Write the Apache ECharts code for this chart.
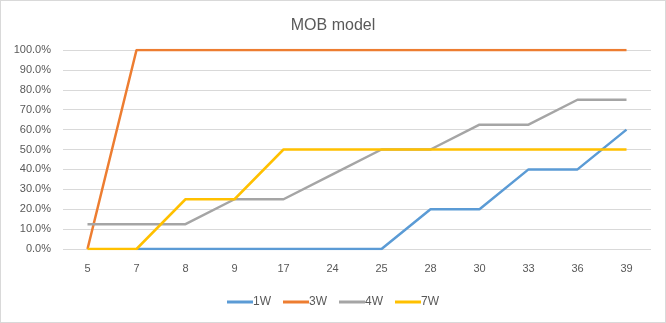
<!DOCTYPE html>
<html><head><meta charset="utf-8">
<script src="https://cdn.jsdelivr.net/npm/echarts@6/dist/echarts.min.js"></script>
<style>
html,body{margin:0;padding:0;background:#fff;}
#c{width:664px;height:321px;border:1px solid #d9d9d9;}
</style></head>
<body><div id="c"></div>
<script>
const categories = ['5','7','8','9','17','24','25','28','30','33','36','39'];
const s1W = [null,0,0,0,0,0,0,0.2,0.2,0.4,0.4,0.6];
const s3W = [0,1,1,1,1,1,1,1,1,1,1,1];
const s4W = [0.125,0.125,0.125,0.25,0.25,0.375,0.5,0.5,0.625,0.625,0.75,0.75];
const s7W = [0,0,0.25,0.25,0.5,0.5,0.5,0.5,0.5,0.5,0.5,0.5];
const seriesNames = ['1W','3W','4W','7W'];
const colors = ['#5b9bd5','#ed7d31','#a5a5a5','#ffc000'];
const data = [s1W,s3W,s4W,s7W];
const font = 'Liberation Sans, Arial, sans-serif';
const chart = echarts.init(document.getElementById('c'));
chart.setOption({
  animation:false,
  title:{text:'MOB model',left:'center',top:12,textStyle:{fontFamily:font,fontSize:16,fontWeight:'normal',color:'#595959'}},
  grid:{left:62,right:14,top:49,bottom:73},
  legend:{bottom:9,left:'center',itemWidth:26,itemHeight:3,itemGap:12,icon:'rect',
    textStyle:{fontFamily:font,fontSize:12,color:'#595959',padding:[0,0,0,-5]},data:seriesNames},
  xAxis:{type:'category',data:categories,boundaryGap:true,
    axisLine:{show:false},axisTick:{show:false},
    axisLabel:{fontFamily:font,fontSize:11,color:'#595959',margin:14}},
  yAxis:{type:'value',min:0,max:1,interval:0.1,
    axisLine:{show:false},axisTick:{show:false},
    splitLine:{lineStyle:{color:'#d9d9d9',width:1}},
    axisLabel:{fontFamily:font,fontSize:11,color:'#595959',margin:12,formatter:v=>(v*100).toFixed(1)+'%'}},
  series:data.map((d,i)=>({name:seriesNames[i],type:'line',data:d,symbol:'none',
    lineStyle:{width:2.5,color:colors[i]},itemStyle:{color:colors[i]}}))
});
</script></body></html>
